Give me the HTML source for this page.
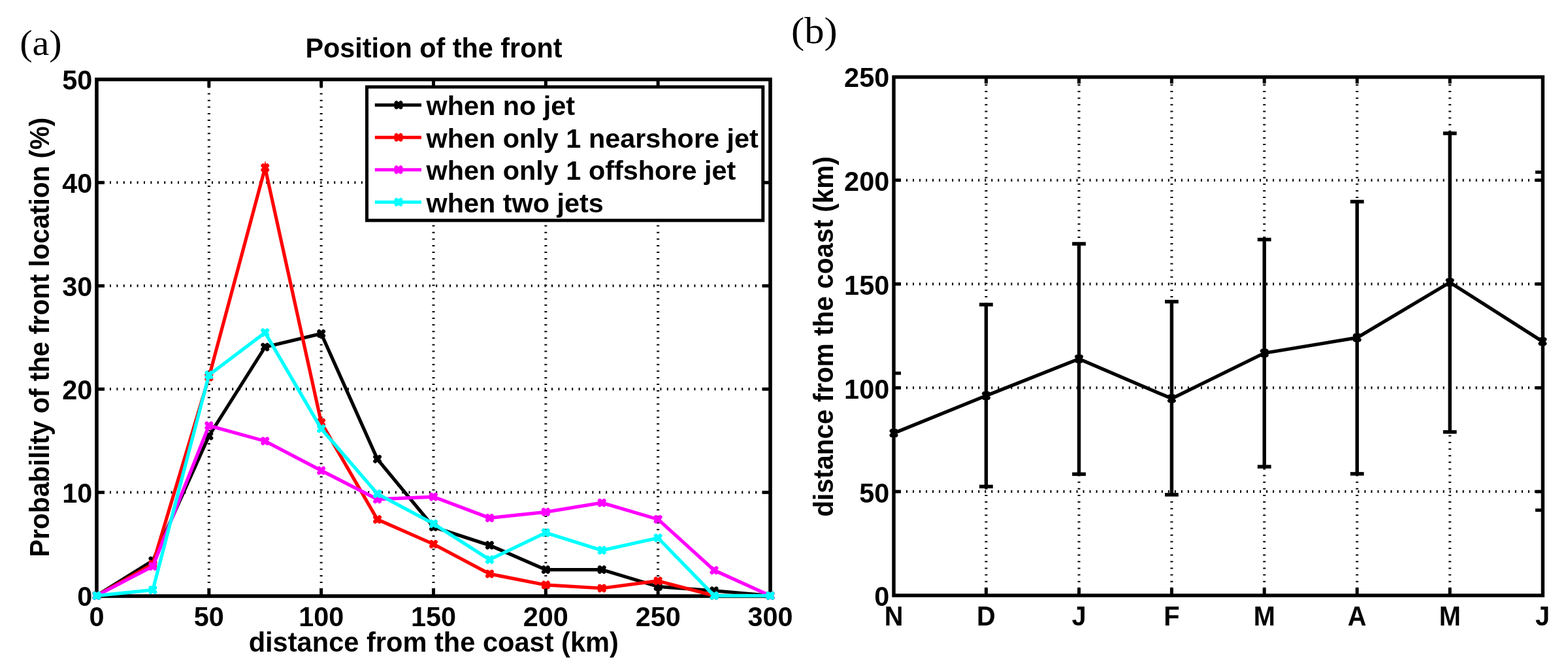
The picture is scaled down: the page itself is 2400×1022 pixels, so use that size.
<!DOCTYPE html><html><head><meta charset="utf-8"><title>Position of the front</title><style>html,body{margin:0;padding:0;background:#fff;overflow:hidden;}svg{display:block;}</style></head><body><svg width="2400" height="1022" viewBox="0 0 2400 1022">
<rect x="0" y="0" width="2400" height="1022" fill="#fff"/>
<line x1="319.83" y1="132.5" x2="319.83" y2="904.00" stroke="#000" stroke-width="4" stroke-dasharray="2 8.1"/>
<line x1="491.67" y1="132.5" x2="491.67" y2="904.00" stroke="#000" stroke-width="4" stroke-dasharray="2 8.1"/>
<line x1="663.50" y1="132.5" x2="663.50" y2="904.00" stroke="#000" stroke-width="4" stroke-dasharray="2 8.1"/>
<line x1="835.33" y1="132.5" x2="835.33" y2="904.00" stroke="#000" stroke-width="4" stroke-dasharray="2 8.1"/>
<line x1="1007.17" y1="132.5" x2="1007.17" y2="904.00" stroke="#000" stroke-width="4" stroke-dasharray="2 8.1"/>
<line x1="168" y1="753.30" x2="1175.00" y2="753.30" stroke="#000" stroke-width="4" stroke-dasharray="2 8.4"/>
<line x1="168" y1="595.30" x2="1175.00" y2="595.30" stroke="#000" stroke-width="4" stroke-dasharray="2 8.4"/>
<line x1="168" y1="437.30" x2="1175.00" y2="437.30" stroke="#000" stroke-width="4" stroke-dasharray="2 8.4"/>
<line x1="168" y1="279.30" x2="1175.00" y2="279.30" stroke="#000" stroke-width="4" stroke-dasharray="2 8.4"/>
<line x1="319.83" y1="912.00" x2="319.83" y2="900.00" stroke="#000" stroke-width="5"/>
<line x1="319.83" y1="121.50" x2="319.83" y2="133.50" stroke="#000" stroke-width="5"/>
<line x1="491.67" y1="912.00" x2="491.67" y2="900.00" stroke="#000" stroke-width="5"/>
<line x1="491.67" y1="121.50" x2="491.67" y2="133.50" stroke="#000" stroke-width="5"/>
<line x1="663.50" y1="912.00" x2="663.50" y2="900.00" stroke="#000" stroke-width="5"/>
<line x1="663.50" y1="121.50" x2="663.50" y2="133.50" stroke="#000" stroke-width="5"/>
<line x1="835.33" y1="912.00" x2="835.33" y2="900.00" stroke="#000" stroke-width="5"/>
<line x1="835.33" y1="121.50" x2="835.33" y2="133.50" stroke="#000" stroke-width="5"/>
<line x1="1007.17" y1="912.00" x2="1007.17" y2="900.00" stroke="#000" stroke-width="5"/>
<line x1="1007.17" y1="121.50" x2="1007.17" y2="133.50" stroke="#000" stroke-width="5"/>
<line x1="148.00" y1="753.30" x2="160.00" y2="753.30" stroke="#000" stroke-width="5"/>
<line x1="1179.00" y1="753.30" x2="1167.00" y2="753.30" stroke="#000" stroke-width="5"/>
<line x1="148.00" y1="595.30" x2="160.00" y2="595.30" stroke="#000" stroke-width="5"/>
<line x1="1179.00" y1="595.30" x2="1167.00" y2="595.30" stroke="#000" stroke-width="5"/>
<line x1="148.00" y1="437.30" x2="160.00" y2="437.30" stroke="#000" stroke-width="5"/>
<line x1="1179.00" y1="437.30" x2="1167.00" y2="437.30" stroke="#000" stroke-width="5"/>
<line x1="148.00" y1="279.30" x2="160.00" y2="279.30" stroke="#000" stroke-width="5"/>
<line x1="1179.00" y1="279.30" x2="1167.00" y2="279.30" stroke="#000" stroke-width="5"/>
<rect x="148.00" y="121.50" width="1031.00" height="790.50" fill="none" stroke="#000" stroke-width="5.6"/>
<polyline points="148.00,911.30 233.92,857.77 319.83,666.94 405.75,530.98 491.67,510.43 577.58,702.36 663.50,806.23 749.42,834.21 835.33,871.53 921.25,871.53 1007.17,897.45 1093.08,903.78 1179.00,911.30" fill="none" stroke="#000000" stroke-width="5.2" stroke-linejoin="miter" stroke-miterlimit="10"/>
<path d="M144.70,908.00L151.30,914.60M144.70,914.60L151.30,908.00" stroke="#000000" stroke-width="6.2" stroke-linecap="round" fill="none"/>
<path d="M230.62,854.47L237.22,861.07M230.62,861.07L237.22,854.47" stroke="#000000" stroke-width="6.2" stroke-linecap="round" fill="none"/>
<path d="M316.53,663.64L323.13,670.24M316.53,670.24L323.13,663.64" stroke="#000000" stroke-width="6.2" stroke-linecap="round" fill="none"/>
<path d="M402.45,527.68L409.05,534.28M402.45,534.28L409.05,527.68" stroke="#000000" stroke-width="6.2" stroke-linecap="round" fill="none"/>
<path d="M488.37,507.13L494.97,513.73M488.37,513.73L494.97,507.13" stroke="#000000" stroke-width="6.2" stroke-linecap="round" fill="none"/>
<path d="M574.28,699.06L580.88,705.66M574.28,705.66L580.88,699.06" stroke="#000000" stroke-width="6.2" stroke-linecap="round" fill="none"/>
<path d="M660.20,802.93L666.80,809.53M660.20,809.53L666.80,802.93" stroke="#000000" stroke-width="6.2" stroke-linecap="round" fill="none"/>
<path d="M746.12,830.91L752.72,837.51M746.12,837.51L752.72,830.91" stroke="#000000" stroke-width="6.2" stroke-linecap="round" fill="none"/>
<path d="M832.03,868.23L838.63,874.83M832.03,874.83L838.63,868.23" stroke="#000000" stroke-width="6.2" stroke-linecap="round" fill="none"/>
<path d="M917.95,868.23L924.55,874.83M917.95,874.83L924.55,868.23" stroke="#000000" stroke-width="6.2" stroke-linecap="round" fill="none"/>
<path d="M1003.87,894.15L1010.47,900.75M1003.87,900.75L1010.47,894.15" stroke="#000000" stroke-width="6.2" stroke-linecap="round" fill="none"/>
<path d="M1089.78,900.48L1096.38,907.08M1089.78,907.08L1096.38,900.48" stroke="#000000" stroke-width="6.2" stroke-linecap="round" fill="none"/>
<path d="M1175.70,908.00L1182.30,914.60M1175.70,914.60L1182.30,908.00" stroke="#000000" stroke-width="6.2" stroke-linecap="round" fill="none"/>
<polyline points="148.00,911.30 233.92,862.99 319.83,576.83 405.75,256.68 491.67,646.39 577.58,794.69 663.50,832.48 749.42,878.01 835.33,894.93 921.25,899.98 1007.17,888.76 1093.08,911.30 1179.00,911.30" fill="none" stroke="#ff0000" stroke-width="5.2" stroke-linejoin="miter" stroke-miterlimit="10"/>
<path d="M144.70,908.00L151.30,914.60M144.70,914.60L151.30,908.00" stroke="#ff0000" stroke-width="6.2" stroke-linecap="round" fill="none"/>
<path d="M230.62,859.69L237.22,866.29M230.62,866.29L237.22,859.69" stroke="#ff0000" stroke-width="6.2" stroke-linecap="round" fill="none"/>
<path d="M316.53,573.53L323.13,580.13M316.53,580.13L323.13,573.53" stroke="#ff0000" stroke-width="6.2" stroke-linecap="round" fill="none"/>
<path d="M402.45,253.38L409.05,259.98M402.45,259.98L409.05,253.38" stroke="#ff0000" stroke-width="6.2" stroke-linecap="round" fill="none"/>
<path d="M488.37,643.09L494.97,649.69M488.37,649.69L494.97,643.09" stroke="#ff0000" stroke-width="6.2" stroke-linecap="round" fill="none"/>
<path d="M574.28,791.39L580.88,797.99M574.28,797.99L580.88,791.39" stroke="#ff0000" stroke-width="6.2" stroke-linecap="round" fill="none"/>
<path d="M660.20,829.18L666.80,835.78M660.20,835.78L666.80,829.18" stroke="#ff0000" stroke-width="6.2" stroke-linecap="round" fill="none"/>
<path d="M746.12,874.71L752.72,881.31M746.12,881.31L752.72,874.71" stroke="#ff0000" stroke-width="6.2" stroke-linecap="round" fill="none"/>
<path d="M832.03,891.63L838.63,898.23M832.03,898.23L838.63,891.63" stroke="#ff0000" stroke-width="6.2" stroke-linecap="round" fill="none"/>
<path d="M917.95,896.68L924.55,903.28M917.95,903.28L924.55,896.68" stroke="#ff0000" stroke-width="6.2" stroke-linecap="round" fill="none"/>
<path d="M1003.87,885.46L1010.47,892.06M1003.87,892.06L1010.47,885.46" stroke="#ff0000" stroke-width="6.2" stroke-linecap="round" fill="none"/>
<path d="M1089.78,908.00L1096.38,914.60M1089.78,914.60L1096.38,908.00" stroke="#ff0000" stroke-width="6.2" stroke-linecap="round" fill="none"/>
<path d="M1175.70,908.00L1182.30,914.60M1175.70,914.60L1182.30,908.00" stroke="#ff0000" stroke-width="6.2" stroke-linecap="round" fill="none"/>
<polyline points="148.00,911.30 233.92,866.47 319.83,651.13 405.75,674.85 491.67,719.91 577.58,763.86 663.50,760.07 749.42,792.48 835.33,783.31 921.25,769.24 1007.17,794.53 1093.08,872.48 1179.00,911.30" fill="none" stroke="#ff00ff" stroke-width="5.2" stroke-linejoin="miter" stroke-miterlimit="10"/>
<path d="M144.70,908.00L151.30,914.60M144.70,914.60L151.30,908.00" stroke="#ff00ff" stroke-width="6.2" stroke-linecap="round" fill="none"/>
<path d="M230.62,863.17L237.22,869.77M230.62,869.77L237.22,863.17" stroke="#ff00ff" stroke-width="6.2" stroke-linecap="round" fill="none"/>
<path d="M316.53,647.84L323.13,654.43M316.53,654.43L323.13,647.84" stroke="#ff00ff" stroke-width="6.2" stroke-linecap="round" fill="none"/>
<path d="M402.45,671.55L409.05,678.15M402.45,678.15L409.05,671.55" stroke="#ff00ff" stroke-width="6.2" stroke-linecap="round" fill="none"/>
<path d="M488.37,716.61L494.97,723.21M488.37,723.21L494.97,716.61" stroke="#ff00ff" stroke-width="6.2" stroke-linecap="round" fill="none"/>
<path d="M574.28,760.56L580.88,767.16M574.28,767.16L580.88,760.56" stroke="#ff00ff" stroke-width="6.2" stroke-linecap="round" fill="none"/>
<path d="M660.20,756.77L666.80,763.37M660.20,763.37L666.80,756.77" stroke="#ff00ff" stroke-width="6.2" stroke-linecap="round" fill="none"/>
<path d="M746.12,789.18L752.72,795.78M746.12,795.78L752.72,789.18" stroke="#ff00ff" stroke-width="6.2" stroke-linecap="round" fill="none"/>
<path d="M832.03,780.01L838.63,786.61M832.03,786.61L838.63,780.01" stroke="#ff00ff" stroke-width="6.2" stroke-linecap="round" fill="none"/>
<path d="M917.95,765.94L924.55,772.54M917.95,772.54L924.55,765.94" stroke="#ff00ff" stroke-width="6.2" stroke-linecap="round" fill="none"/>
<path d="M1003.87,791.23L1010.47,797.83M1003.87,797.83L1010.47,791.23" stroke="#ff00ff" stroke-width="6.2" stroke-linecap="round" fill="none"/>
<path d="M1089.78,869.18L1096.38,875.77M1089.78,875.77L1096.38,869.18" stroke="#ff00ff" stroke-width="6.2" stroke-linecap="round" fill="none"/>
<path d="M1175.70,908.00L1182.30,914.60M1175.70,914.60L1182.30,908.00" stroke="#ff00ff" stroke-width="6.2" stroke-linecap="round" fill="none"/>
<polyline points="148.00,911.30 233.92,902.51 319.83,573.67 405.75,508.85 491.67,655.88 577.58,755.48 663.50,801.33 749.42,856.19 835.33,814.93 921.25,841.96 1007.17,822.99 1093.08,911.30 1179.00,911.30" fill="none" stroke="#00ffff" stroke-width="5.2" stroke-linejoin="miter" stroke-miterlimit="10"/>
<path d="M144.70,908.00L151.30,914.60M144.70,914.60L151.30,908.00" stroke="#00ffff" stroke-width="6.2" stroke-linecap="round" fill="none"/>
<path d="M230.62,899.21L237.22,905.81M230.62,905.81L237.22,899.21" stroke="#00ffff" stroke-width="6.2" stroke-linecap="round" fill="none"/>
<path d="M316.53,570.37L323.13,576.97M316.53,576.97L323.13,570.37" stroke="#00ffff" stroke-width="6.2" stroke-linecap="round" fill="none"/>
<path d="M402.45,505.55L409.05,512.14M402.45,512.14L409.05,505.55" stroke="#00ffff" stroke-width="6.2" stroke-linecap="round" fill="none"/>
<path d="M488.37,652.58L494.97,659.18M488.37,659.18L494.97,652.58" stroke="#00ffff" stroke-width="6.2" stroke-linecap="round" fill="none"/>
<path d="M574.28,752.18L580.88,758.78M574.28,758.78L580.88,752.18" stroke="#00ffff" stroke-width="6.2" stroke-linecap="round" fill="none"/>
<path d="M660.20,798.03L666.80,804.63M660.20,804.63L666.80,798.03" stroke="#00ffff" stroke-width="6.2" stroke-linecap="round" fill="none"/>
<path d="M746.12,852.89L752.72,859.49M746.12,859.49L752.72,852.89" stroke="#00ffff" stroke-width="6.2" stroke-linecap="round" fill="none"/>
<path d="M832.03,811.63L838.63,818.23M832.03,818.23L838.63,811.63" stroke="#00ffff" stroke-width="6.2" stroke-linecap="round" fill="none"/>
<path d="M917.95,838.66L924.55,845.26M917.95,845.26L924.55,838.66" stroke="#00ffff" stroke-width="6.2" stroke-linecap="round" fill="none"/>
<path d="M1003.87,819.69L1010.47,826.29M1003.87,826.29L1010.47,819.69" stroke="#00ffff" stroke-width="6.2" stroke-linecap="round" fill="none"/>
<path d="M1089.78,908.00L1096.38,914.60M1089.78,914.60L1096.38,908.00" stroke="#00ffff" stroke-width="6.2" stroke-linecap="round" fill="none"/>
<path d="M1175.70,908.00L1182.30,914.60M1175.70,914.60L1182.30,908.00" stroke="#00ffff" stroke-width="6.2" stroke-linecap="round" fill="none"/>
<rect x="561.5" y="133.0" width="606.30" height="204.20" fill="#fff" stroke="#000" stroke-width="5"/>
<line x1="573.8" y1="160.70" x2="645" y2="160.70" stroke="#000000" stroke-width="5"/>
<path d="M606.70,157.40L613.30,164.00M606.70,164.00L613.30,157.40" stroke="#000000" stroke-width="6.2" stroke-linecap="round" fill="none"/>
<text x="0" y="0" text-anchor="start" font-size="41.4" font-weight="bold" font-family="'Liberation Sans', Arial, Helvetica, sans-serif" transform="translate(652.50 176.40) scale(1.0 1.0)">when no jet</text>
<line x1="573.8" y1="210.20" x2="645" y2="210.20" stroke="#ff0000" stroke-width="5"/>
<path d="M606.70,206.90L613.30,213.50M606.70,213.50L613.30,206.90" stroke="#ff0000" stroke-width="6.2" stroke-linecap="round" fill="none"/>
<text x="0" y="0" text-anchor="start" font-size="41.4" font-weight="bold" font-family="'Liberation Sans', Arial, Helvetica, sans-serif" transform="translate(652.50 225.90) scale(1.0 1.0)">when only 1 nearshore jet</text>
<line x1="573.8" y1="259.70" x2="645" y2="259.70" stroke="#ff00ff" stroke-width="5"/>
<path d="M606.70,256.40L613.30,263.00M606.70,263.00L613.30,256.40" stroke="#ff00ff" stroke-width="6.2" stroke-linecap="round" fill="none"/>
<text x="0" y="0" text-anchor="start" font-size="41.4" font-weight="bold" font-family="'Liberation Sans', Arial, Helvetica, sans-serif" transform="translate(652.50 275.40) scale(1.0 1.0)">when only 1 offshore jet</text>
<line x1="573.8" y1="309.20" x2="645" y2="309.20" stroke="#00ffff" stroke-width="5"/>
<path d="M606.70,305.90L613.30,312.50M606.70,312.50L613.30,305.90" stroke="#00ffff" stroke-width="6.2" stroke-linecap="round" fill="none"/>
<text x="0" y="0" text-anchor="start" font-size="41.4" font-weight="bold" font-family="'Liberation Sans', Arial, Helvetica, sans-serif" transform="translate(652.50 324.90) scale(1.0 1.0)">when two jets</text>
<text x="0" y="0" text-anchor="middle" font-size="41.4" font-weight="bold" font-family="'Liberation Sans', Arial, Helvetica, sans-serif" transform="translate(148.00 957.60) scale(1.0 1.035)">0</text>
<text x="0" y="0" text-anchor="middle" font-size="41.4" font-weight="bold" font-family="'Liberation Sans', Arial, Helvetica, sans-serif" transform="translate(319.83 957.60) scale(1.0 1.035)">50</text>
<text x="0" y="0" text-anchor="middle" font-size="41.4" font-weight="bold" font-family="'Liberation Sans', Arial, Helvetica, sans-serif" transform="translate(491.67 957.60) scale(1.0 1.035)">100</text>
<text x="0" y="0" text-anchor="middle" font-size="41.4" font-weight="bold" font-family="'Liberation Sans', Arial, Helvetica, sans-serif" transform="translate(663.50 957.60) scale(1.0 1.035)">150</text>
<text x="0" y="0" text-anchor="middle" font-size="41.4" font-weight="bold" font-family="'Liberation Sans', Arial, Helvetica, sans-serif" transform="translate(835.33 957.60) scale(1.0 1.035)">200</text>
<text x="0" y="0" text-anchor="middle" font-size="41.4" font-weight="bold" font-family="'Liberation Sans', Arial, Helvetica, sans-serif" transform="translate(1007.17 957.60) scale(1.0 1.035)">250</text>
<text x="0" y="0" text-anchor="middle" font-size="41.4" font-weight="bold" font-family="'Liberation Sans', Arial, Helvetica, sans-serif" transform="translate(1179.00 957.60) scale(1.0 1.035)">300</text>
<text x="0" y="0" text-anchor="end" font-size="41.4" font-weight="bold" font-family="'Liberation Sans', Arial, Helvetica, sans-serif" transform="translate(141.20 927.30) scale(1.0 1.035)">0</text>
<text x="0" y="0" text-anchor="end" font-size="41.4" font-weight="bold" font-family="'Liberation Sans', Arial, Helvetica, sans-serif" transform="translate(141.20 769.20) scale(1.0 1.035)">10</text>
<text x="0" y="0" text-anchor="end" font-size="41.4" font-weight="bold" font-family="'Liberation Sans', Arial, Helvetica, sans-serif" transform="translate(141.20 611.10) scale(1.0 1.035)">20</text>
<text x="0" y="0" text-anchor="end" font-size="41.4" font-weight="bold" font-family="'Liberation Sans', Arial, Helvetica, sans-serif" transform="translate(141.20 453.00) scale(1.0 1.035)">30</text>
<text x="0" y="0" text-anchor="end" font-size="41.4" font-weight="bold" font-family="'Liberation Sans', Arial, Helvetica, sans-serif" transform="translate(141.20 294.90) scale(1.0 1.035)">40</text>
<text x="0" y="0" text-anchor="end" font-size="41.4" font-weight="bold" font-family="'Liberation Sans', Arial, Helvetica, sans-serif" transform="translate(141.20 136.80) scale(1.0 1.035)">50</text>
<text x="0" y="0" text-anchor="middle" font-size="41.4" font-weight="bold" font-family="'Liberation Sans', Arial, Helvetica, sans-serif" transform="translate(664.00 88.10) scale(1.0 1.01)">Position of the front</text>
<text x="0" y="0" text-anchor="middle" font-size="41.6" font-weight="bold" font-family="'Liberation Sans', Arial, Helvetica, sans-serif" transform="translate(663.80 997.20) scale(1.0 1.0)">distance from the coast (km)</text>
<text x="0" y="0" text-anchor="middle" font-size="41.4" font-weight="bold" font-family="'Liberation Sans', Arial, Helvetica, sans-serif" transform="translate(75 516) rotate(-90) scale(0.975 1.02)">Probability of the front location (%)</text>
<text x="0" y="0" font-size="57" font-family="'Liberation Serif', 'Times New Roman', serif" transform="translate(30.2 83.8) scale(1.02 0.98)">(a)</text>
<line x1="1509.40" y1="128.9" x2="1509.40" y2="902.90" stroke="#000" stroke-width="4" stroke-dasharray="2 8.13"/>
<line x1="1651.50" y1="128.9" x2="1651.50" y2="902.90" stroke="#000" stroke-width="4" stroke-dasharray="2 8.13"/>
<line x1="1793.40" y1="128.9" x2="1793.40" y2="902.90" stroke="#000" stroke-width="4" stroke-dasharray="2 8.13"/>
<line x1="1935.20" y1="128.9" x2="1935.20" y2="902.90" stroke="#000" stroke-width="4" stroke-dasharray="2 8.13"/>
<line x1="2077.20" y1="128.9" x2="2077.20" y2="902.90" stroke="#000" stroke-width="4" stroke-dasharray="2 8.13"/>
<line x1="2219.20" y1="128.9" x2="2219.20" y2="902.90" stroke="#000" stroke-width="4" stroke-dasharray="2 8.13"/>
<line x1="1387" y1="752.10" x2="2357.00" y2="752.10" stroke="#000" stroke-width="4" stroke-dasharray="2 8.02"/>
<line x1="1387" y1="593.30" x2="2357.00" y2="593.30" stroke="#000" stroke-width="4" stroke-dasharray="2 8.02"/>
<line x1="1387" y1="434.50" x2="2357.00" y2="434.50" stroke="#000" stroke-width="4" stroke-dasharray="2 8.02"/>
<line x1="1387" y1="275.70" x2="2357.00" y2="275.70" stroke="#000" stroke-width="4" stroke-dasharray="2 8.02"/>
<line x1="1509.40" y1="911" x2="1509.40" y2="899.50" stroke="#000" stroke-width="5"/>
<line x1="1509.40" y1="117.9" x2="1509.40" y2="127.90" stroke="#000" stroke-width="5"/>
<line x1="1651.50" y1="911" x2="1651.50" y2="899.50" stroke="#000" stroke-width="5"/>
<line x1="1651.50" y1="117.9" x2="1651.50" y2="127.90" stroke="#000" stroke-width="5"/>
<line x1="1793.40" y1="911" x2="1793.40" y2="899.50" stroke="#000" stroke-width="5"/>
<line x1="1793.40" y1="117.9" x2="1793.40" y2="127.90" stroke="#000" stroke-width="5"/>
<line x1="1935.20" y1="911" x2="1935.20" y2="899.50" stroke="#000" stroke-width="5"/>
<line x1="1935.20" y1="117.9" x2="1935.20" y2="127.90" stroke="#000" stroke-width="5"/>
<line x1="2077.20" y1="911" x2="2077.20" y2="899.50" stroke="#000" stroke-width="5"/>
<line x1="2077.20" y1="117.9" x2="2077.20" y2="127.90" stroke="#000" stroke-width="5"/>
<line x1="2219.20" y1="911" x2="2219.20" y2="899.50" stroke="#000" stroke-width="5"/>
<line x1="2219.20" y1="117.9" x2="2219.20" y2="127.90" stroke="#000" stroke-width="5"/>
<line x1="1368.00" y1="752.10" x2="1379.00" y2="752.10" stroke="#000" stroke-width="5"/>
<line x1="2361.00" y1="752.10" x2="2350.00" y2="752.10" stroke="#000" stroke-width="5"/>
<line x1="1368.00" y1="593.30" x2="1379.00" y2="593.30" stroke="#000" stroke-width="5"/>
<line x1="2361.00" y1="593.30" x2="2350.00" y2="593.30" stroke="#000" stroke-width="5"/>
<line x1="1368.00" y1="434.50" x2="1379.00" y2="434.50" stroke="#000" stroke-width="5"/>
<line x1="2361.00" y1="434.50" x2="2350.00" y2="434.50" stroke="#000" stroke-width="5"/>
<line x1="1368.00" y1="275.70" x2="1379.00" y2="275.70" stroke="#000" stroke-width="5"/>
<line x1="2361.00" y1="275.70" x2="2350.00" y2="275.70" stroke="#000" stroke-width="5"/>
<line x1="1368.00" y1="571.00" x2="1379.00" y2="571.00" stroke="#000" stroke-width="5"/>
<line x1="2361.00" y1="263.40" x2="2350.00" y2="263.40" stroke="#000" stroke-width="5"/>
<line x1="2361.00" y1="780.50" x2="2350.00" y2="780.50" stroke="#000" stroke-width="5"/>
<rect x="1368.0" y="117.9" width="993.4" height="793.1" fill="none" stroke="#000" stroke-width="5.4"/>
<line x1="1509.40" y1="464.00" x2="1509.40" y2="746.40" stroke="#000" stroke-width="5.4"/>
<line x1="1499.00" y1="466.00" x2="1519.80" y2="466.00" stroke="#000" stroke-width="5.5"/>
<line x1="1499.00" y1="744.40" x2="1519.80" y2="744.40" stroke="#000" stroke-width="5.5"/>
<line x1="1651.50" y1="371.00" x2="1651.50" y2="727.40" stroke="#000" stroke-width="5.4"/>
<line x1="1641.10" y1="373.00" x2="1661.90" y2="373.00" stroke="#000" stroke-width="5.5"/>
<line x1="1641.10" y1="725.40" x2="1661.90" y2="725.40" stroke="#000" stroke-width="5.5"/>
<line x1="1793.40" y1="459.50" x2="1793.40" y2="758.90" stroke="#000" stroke-width="5.4"/>
<line x1="1783.00" y1="461.50" x2="1803.80" y2="461.50" stroke="#000" stroke-width="5.5"/>
<line x1="1783.00" y1="756.90" x2="1803.80" y2="756.90" stroke="#000" stroke-width="5.5"/>
<line x1="1935.20" y1="364.50" x2="1935.20" y2="716.00" stroke="#000" stroke-width="5.4"/>
<line x1="1924.80" y1="366.50" x2="1945.60" y2="366.50" stroke="#000" stroke-width="5.5"/>
<line x1="1924.80" y1="714.00" x2="1945.60" y2="714.00" stroke="#000" stroke-width="5.5"/>
<line x1="2077.20" y1="306.50" x2="2077.20" y2="726.90" stroke="#000" stroke-width="5.4"/>
<line x1="2066.80" y1="308.50" x2="2087.60" y2="308.50" stroke="#000" stroke-width="5.5"/>
<line x1="2066.80" y1="724.90" x2="2087.60" y2="724.90" stroke="#000" stroke-width="5.5"/>
<line x1="2219.20" y1="202.00" x2="2219.20" y2="662.90" stroke="#000" stroke-width="5.4"/>
<line x1="2208.80" y1="204.00" x2="2229.60" y2="204.00" stroke="#000" stroke-width="5.5"/>
<line x1="2208.80" y1="660.90" x2="2229.60" y2="660.90" stroke="#000" stroke-width="5.5"/>
<polyline points="1368.00,662.70 1509.40,605.40 1651.50,549.00 1793.40,609.80 1935.20,540.20 2077.20,516.70 2219.20,432.00 2361.00,522.50" fill="none" stroke="#000" stroke-width="5.3"/>
<path d="M1364.70,659.40L1371.30,666.00M1364.70,666.00L1371.30,659.40" stroke="#000" stroke-width="6.2" stroke-linecap="round" fill="none"/>
<path d="M1506.10,602.10L1512.70,608.70M1506.10,608.70L1512.70,602.10" stroke="#000" stroke-width="6.2" stroke-linecap="round" fill="none"/>
<path d="M1648.20,545.70L1654.80,552.30M1648.20,552.30L1654.80,545.70" stroke="#000" stroke-width="6.2" stroke-linecap="round" fill="none"/>
<path d="M1790.10,606.50L1796.70,613.10M1790.10,613.10L1796.70,606.50" stroke="#000" stroke-width="6.2" stroke-linecap="round" fill="none"/>
<path d="M1931.90,536.90L1938.50,543.50M1931.90,543.50L1938.50,536.90" stroke="#000" stroke-width="6.2" stroke-linecap="round" fill="none"/>
<path d="M2073.90,513.40L2080.50,520.00M2073.90,520.00L2080.50,513.40" stroke="#000" stroke-width="6.2" stroke-linecap="round" fill="none"/>
<path d="M2215.90,428.70L2222.50,435.30M2215.90,435.30L2222.50,428.70" stroke="#000" stroke-width="6.2" stroke-linecap="round" fill="none"/>
<path d="M2357.70,519.20L2364.30,525.80M2357.70,525.80L2364.30,519.20" stroke="#000" stroke-width="6.2" stroke-linecap="round" fill="none"/>
<text x="0" y="0" text-anchor="middle" font-size="41.4" font-weight="bold" font-family="'Liberation Sans', Arial, Helvetica, sans-serif" transform="translate(1368.00 957.00) scale(0.96 1.035)">N</text>
<text x="0" y="0" text-anchor="middle" font-size="41.4" font-weight="bold" font-family="'Liberation Sans', Arial, Helvetica, sans-serif" transform="translate(1509.40 957.00) scale(0.96 1.035)">D</text>
<text x="0" y="0" text-anchor="middle" font-size="41.4" font-weight="bold" font-family="'Liberation Sans', Arial, Helvetica, sans-serif" transform="translate(1651.50 957.00) scale(0.96 1.035)">J</text>
<text x="0" y="0" text-anchor="middle" font-size="41.4" font-weight="bold" font-family="'Liberation Sans', Arial, Helvetica, sans-serif" transform="translate(1793.40 957.00) scale(0.96 1.035)">F</text>
<text x="0" y="0" text-anchor="middle" font-size="41.4" font-weight="bold" font-family="'Liberation Sans', Arial, Helvetica, sans-serif" transform="translate(1935.20 957.00) scale(0.96 1.035)">M</text>
<text x="0" y="0" text-anchor="middle" font-size="41.4" font-weight="bold" font-family="'Liberation Sans', Arial, Helvetica, sans-serif" transform="translate(2077.20 957.00) scale(0.96 1.035)">A</text>
<text x="0" y="0" text-anchor="middle" font-size="41.4" font-weight="bold" font-family="'Liberation Sans', Arial, Helvetica, sans-serif" transform="translate(2219.20 957.00) scale(0.96 1.035)">M</text>
<text x="0" y="0" text-anchor="middle" font-size="41.4" font-weight="bold" font-family="'Liberation Sans', Arial, Helvetica, sans-serif" transform="translate(2361.00 957.00) scale(0.96 1.035)">J</text>
<text x="0" y="0" text-anchor="end" font-size="41.4" font-weight="bold" font-family="'Liberation Sans', Arial, Helvetica, sans-serif" transform="translate(1361.20 927.30) scale(1.0 1.035)">0</text>
<text x="0" y="0" text-anchor="end" font-size="41.4" font-weight="bold" font-family="'Liberation Sans', Arial, Helvetica, sans-serif" transform="translate(1361.20 768.50) scale(1.0 1.035)">50</text>
<text x="0" y="0" text-anchor="end" font-size="41.4" font-weight="bold" font-family="'Liberation Sans', Arial, Helvetica, sans-serif" transform="translate(1361.20 609.70) scale(1.0 1.035)">100</text>
<text x="0" y="0" text-anchor="end" font-size="41.4" font-weight="bold" font-family="'Liberation Sans', Arial, Helvetica, sans-serif" transform="translate(1361.20 450.90) scale(1.0 1.035)">150</text>
<text x="0" y="0" text-anchor="end" font-size="41.4" font-weight="bold" font-family="'Liberation Sans', Arial, Helvetica, sans-serif" transform="translate(1361.20 292.10) scale(1.0 1.035)">200</text>
<text x="0" y="0" text-anchor="end" font-size="41.4" font-weight="bold" font-family="'Liberation Sans', Arial, Helvetica, sans-serif" transform="translate(1361.20 133.30) scale(1.0 1.035)">250</text>
<text x="0" y="0" text-anchor="middle" font-size="41.4" font-weight="bold" font-family="'Liberation Sans', Arial, Helvetica, sans-serif" transform="translate(1275 515) rotate(-90) scale(0.979 1.02)">distance from the coast (km)</text>
<text x="0" y="0" font-size="57" font-family="'Liberation Serif', 'Times New Roman', serif" transform="translate(1211 66) scale(1.064 0.983)">(b)</text>
</svg></body></html>
